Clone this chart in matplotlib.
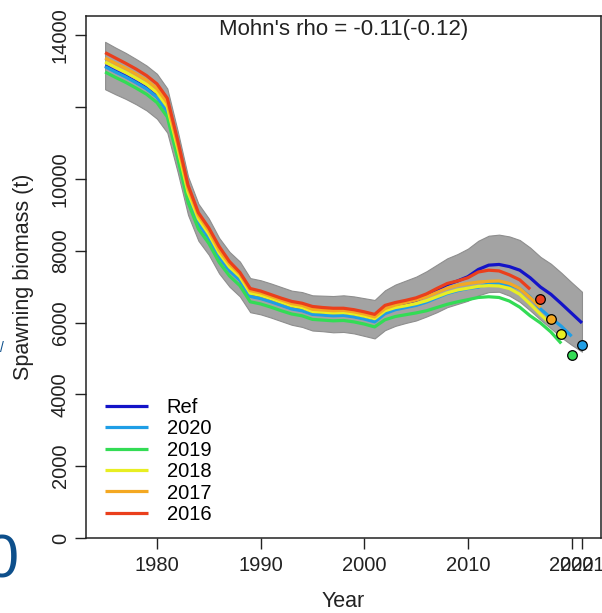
import numpy as np
import matplotlib
matplotlib.use("Agg")
import matplotlib.pyplot as plt

plt.rcParams["font.family"] = ["Liberation Sans", "DejaVu Sans"]

# 年份
years = np.arange(1975, 2022)

# Ref 运行的产卵生物量 (t)
ssb_ref = [13150, 13000, 12860, 12700, 12530, 12300, 11900, 10750, 9520, 8780,
           8380, 7850, 7470, 7200, 6750, 6690, 6600, 6500, 6400, 6350,
           6250, 6230, 6210, 6220, 6180, 6120, 6050, 6300, 6440, 6530,
           6620, 6750, 6900, 7060, 7160, 7280, 7480, 7600, 7620, 7560,
           7460, 7250, 6990, 6790, 6530, 6260, 5990]
ci_upper = [13820, 13660, 13510, 13340, 13160, 12930, 12520, 11340, 10070, 9310,
            8900, 8360, 7970, 7700, 7240, 7180, 7090, 6990, 6890, 6850,
            6760, 6750, 6740, 6760, 6730, 6680, 6630, 6900, 7060, 7170,
            7280, 7430, 7610, 7790, 7910, 8060, 8280, 8420, 8450, 8400,
            8300, 8090, 7830, 7640, 7390, 7120, 6860]
ci_lower = [12500, 12360, 12230, 12080, 11910, 11680, 11290, 10190, 9000, 8280,
            7890, 7370, 7000, 6730, 6290, 6230, 6140, 6040, 5940, 5880,
            5780, 5760, 5730, 5740, 5700, 5630, 5560, 5790, 5910, 5990,
            6060, 6170, 6290, 6430, 6520, 6610, 6760, 6850, 6860, 6750,
            6580, 6340, 6080, 5840, 5590, 5380, 5190]

# 回溯分析 (peel) 各年份
ssb_2020 = [13130, 12980, 12840, 12680, 12510, 12280, 11880, 10730, 9500, 8760,
            8360, 7830, 7450, 7180, 6730, 6670, 6580, 6480, 6380, 6330,
            6230, 6210, 6190, 6200, 6160, 6100, 6020, 6250, 6360, 6420,
            6480, 6570, 6690, 6810, 6890, 6950, 6990, 7080, 7100, 7050,
            6950, 6720, 6380, 6130, 5900, 5620]
ssb_2019 = [12980, 12830, 12690, 12530, 12360, 12130, 11730, 10580, 9350, 8610,
            8210, 7680, 7300, 7030, 6580, 6520, 6430, 6330, 6240, 6190,
            6090, 6070, 6050, 6060, 6020, 5960, 5880, 6080, 6170, 6220,
            6270, 6330, 6420, 6510, 6580, 6640, 6700, 6720, 6700, 6600,
            6430, 6190, 5990, 5740, 5420]
ssb_2018 = [13260, 13110, 12970, 12810, 12640, 12410, 12010, 10860, 9630, 8890,
            8470, 7940, 7550, 7280, 6820, 6760, 6670, 6570, 6470, 6420,
            6310, 6290, 6270, 6280, 6240, 6180, 6110, 6330, 6420, 6470,
            6530, 6610, 6720, 6830, 6910, 6960, 7010, 7030, 7020, 6950,
            6790, 6520, 6230, 5960]
ssb_2017 = [13370, 13220, 13080, 12920, 12750, 12520, 12120, 10970, 9740, 8990,
            8560, 8020, 7630, 7350, 6890, 6830, 6730, 6630, 6530, 6480,
            6370, 6350, 6330, 6340, 6300, 6240, 6160, 6390, 6490, 6560,
            6630, 6720, 6840, 6960, 7040, 7090, 7130, 7150, 7160, 7090,
            6950, 6700, 6420]
ssb_2016 = [13520, 13370, 13220, 13060, 12880, 12650, 12250, 11080, 9830, 9060,
            8640, 8120, 7700, 7400, 6950, 6880, 6780, 6680, 6590, 6540,
            6450, 6420, 6400, 6400, 6360, 6300, 6230, 6480, 6560, 6620,
            6690, 6800, 6950, 7090, 7160, 7250, 7410, 7460, 7440, 7330,
            7190, 6930]

# 一步预测点 (peel 年 + 1)
fc_years = [2021, 2020, 2019, 2018, 2017]
fc_values = [5376, 5097, 5683, 6100, 6650]

labels = ["Ref", "2020", "2019", "2018", "2017", "2016"]
colors = ["#1414c8", "#1f9ee6", "#33dc55", "#e8ee22", "#f4a822", "#ea3f1c"]
series = [ssb_ref, ssb_2020, ssb_2019, ssb_2018, ssb_2017, ssb_2016]

fig = plt.figure(figsize=(6.02, 6.13), dpi=100)
ax = fig.add_axes([0.1429, 0.1223, 0.8555, 0.8516])

ax.fill_between(years, ci_lower, ci_upper, facecolor="#a3a3a3",
                edgecolor="#8e8e8e", linewidth=0.8, zorder=1)

for lab, col, vals in zip(labels, colors, series):
    ax.plot(years[:len(vals)], vals, color=col, lw=2.3, label=lab, zorder=2,
            solid_capstyle="butt")

for yr, val, col in zip(fc_years, fc_values, colors[1:]):
    ax.scatter(yr, val, s=48, color=col, edgecolor="black", linewidth=0.9,
               zorder=4)

ax.set_xlim(1973.16, 2022.84)
ax.set_ylim(0, 14540)

ax.set_xticks([1980, 1990, 2000, 2010, 2020, 2021])
ax.set_xticklabels(["1980", "1990", "2000", "2010", "2020", "2021"])
yt = [0, 2000, 4000, 6000, 8000, 10000, 12000, 14000]
ax.set_yticks(yt)
ax.set_yticklabels(["0", "2000", "4000", "6000", "8000", "10000", "", "14000"],
                   rotation=90, va="center")
ax.tick_params(axis="both", direction="out", length=7.7, width=1.0,
               labelsize=14.5, color="#222222", labelcolor="#222222")
ax.tick_params(axis="x", pad=5.5)
ax.tick_params(axis="y", pad=4)
for sp in ax.spines.values():
    sp.set_linewidth(1.1)
    sp.set_color("#222222")

ax.set_xlabel("Year", fontsize=15.5, labelpad=11, color="#222222")
ax.set_ylabel("Spawning biomass (t)", fontsize=15.5, labelpad=12, color="#222222")

ax.text(0.5, 0.975, "Mohn's rho = -0.11(-0.12)", transform=ax.transAxes,
        ha="center", va="center", fontsize=16, color="#222222")

ax.legend(loc="lower left", bbox_to_anchor=(0.01, 0.0), frameon=False,
          fontsize=14.5, handlelength=2.1, handletextpad=0.95, labelspacing=0.12,
          borderaxespad=0.3)

# 幻灯片裁剪残留的文字
fig.text(19 / 602, 1 - 562 / 613, "0", ha="right", va="center",
         fontsize=44, color="#0d4f8b")
fig.text(0.0, 1 - 348 / 613, "/", ha="left", va="center",
         fontsize=10, color="#0d4f8b")

fig.savefig("out.png", dpi=100)
